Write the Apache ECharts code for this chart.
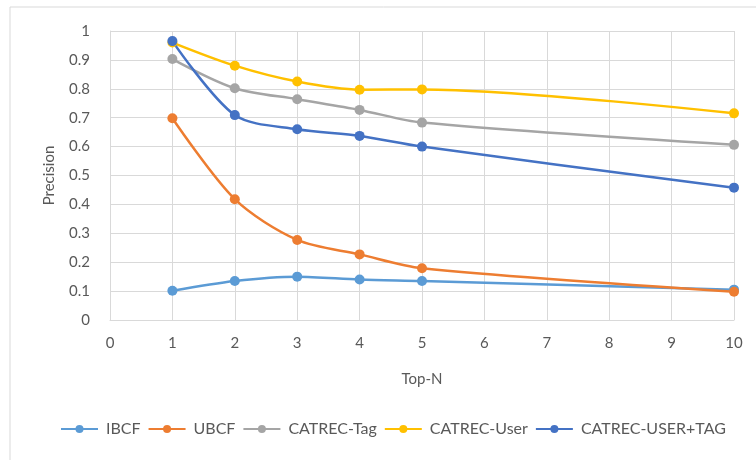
<!DOCTYPE html>
<html>
<head>
<meta charset="utf-8">
<script src="https://cdn.jsdelivr.net/npm/echarts@6/dist/echarts.min.js"></script>
<style>
  html, body { margin: 0; padding: 0; background: #fff; }
  #chart { width: 756px; height: 460px; }
</style>
</head>
<body>
<div id="chart"></div>
<script>
// Top-N values on the x axis
const topN = [1, 2, 3, 4, 5, 10];

// Precision per method
const ibcf       = [0.101, 0.135, 0.150, 0.140, 0.135, 0.105];
const ubcf       = [0.698, 0.418, 0.277, 0.227, 0.179, 0.098];
const catrecTag  = [0.903, 0.802, 0.764, 0.727, 0.683, 0.606];
const catrecUser = [0.960, 0.880, 0.825, 0.797, 0.798, 0.715];
const catrecBoth = [0.965, 0.709, 0.660, 0.637, 0.600, 0.458];

const seriesNames  = ['IBCF', 'UBCF', 'CATREC-Tag', 'CATREC-User', 'CATREC-USER+TAG'];
const seriesValues = [ibcf, ubcf, catrecTag, catrecUser, catrecBoth];
const colors = ['#5B9BD5', '#ED7D31', '#A5A5A5', '#FFC000', '#4472C4'];

const font = 'Lato, "Open Sans", sans-serif';
const textColor = '#595959';
const gridColor = '#D9D9D9';

const chart = echarts.init(document.getElementById('chart'), null, { renderer: 'canvas' });

chart.setOption({
  animation: false,
  color: colors,
  graphic: [{
    type: 'rect',
    shape: { x: 10, y: 7, width: 760, height: 470 },
    style: { fill: 'none', stroke: '#D9D9D9', lineWidth: 1 },
    silent: true
  }],
  grid: { left: 110, right: 22, top: 31, bottom: 140 },
  xAxis: {
    type: 'value',
    min: 0, max: 10, interval: 1,
    name: 'Top-N',
    nameLocation: 'middle',
    nameGap: 52,
    nameTextStyle: { color: textColor, fontSize: 15, fontFamily: font },
    axisLine: { show: true, lineStyle: { color: gridColor } },
    axisTick: { show: false },
    axisLabel: { color: textColor, fontSize: 15, fontFamily: font, margin: 16 },
    splitLine: { show: true, lineStyle: { color: gridColor } }
  },
  yAxis: {
    type: 'value',
    min: 0, max: 1, interval: 0.1,
    name: 'Precision',
    nameLocation: 'middle',
    nameRotate: 90,
    nameGap: 53,
    nameTextStyle: { color: textColor, fontSize: 15, fontFamily: font },
    axisLine: { show: true, lineStyle: { color: gridColor } },
    axisTick: { show: false },
    axisLabel: {
      color: textColor, fontSize: 15, fontFamily: font, margin: 20,
      formatter: v => String(Math.round(v * 10) / 10)
    },
    splitLine: { show: true, lineStyle: { color: gridColor } }
  },
  legend: {
    bottom: 18,
    left: 55,
    itemWidth: 37,
    itemHeight: 10,
    itemGap: 7,
    textStyle: { color: textColor, fontSize: 16, fontFamily: font, padding: [0, 0, 0, 3] },
    data: seriesNames
  },
  series: seriesNames.map((name, i) => ({
    name,
    type: 'line',
    smooth: 0.3,
    symbol: 'circle',
    symbolSize: 10,
    lineStyle: { width: 2.5, color: colors[i] },
    itemStyle: { color: colors[i] },
    data: topN.map((x, j) => [x, seriesValues[i][j]])
  }))
});
</script>
</body>
</html>
